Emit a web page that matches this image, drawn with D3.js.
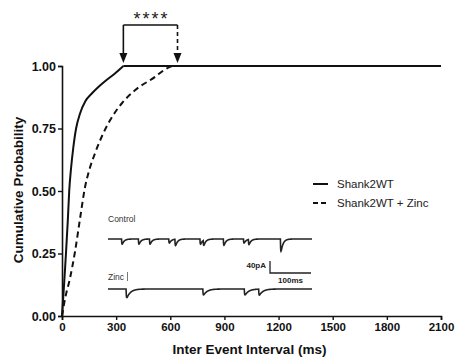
<!DOCTYPE html>
<html>
<head>
<meta charset="utf-8">
<script src="https://cdn.jsdelivr.net/npm/d3@7"></script>
<style>
  body { margin: 0; background: #fff; }
  svg { display: block; font-family: "Liberation Sans", Arial, sans-serif; }
</style>
</head>
<body>
<div id="chart"></div>
<script>
// cumulative distribution, [interval ms, probability]
const shank2wt = [
  [0, 0], [11, 0.12], [22, 0.25], [32, 0.38], [40, 0.5], [50, 0.59], [62, 0.67],
  [78, 0.75], [100, 0.81], [130, 0.86], [165, 0.89], [200, 0.915], [240, 0.94],
  [290, 0.968], [340, 1], [2100, 1]
];
const shank2wtZinc = [
  [0, 0], [17, 0.07], [44, 0.15], [72, 0.257], [100, 0.39], [128, 0.517],
  [146, 0.571], [183, 0.651], [220, 0.717], [267, 0.784], [332, 0.851],
  [406, 0.904], [517, 0.957], [570, 0.986], [610, 1], [2100, 1]
];
const xTicks = [0, 300, 600, 900, 1200, 1500, 1800, 2100];
const yTicks = [0, 0.25, 0.5, 0.75, 1];
const legendLabels = ['Shank2WT', 'Shank2WT + Zinc'];
const arrowsAt = [340, 640];
const stars = '****';

// example traces: event onset (ms) and amplitude (pA)
const controlEvents = [
  [33, 26], [74, 26], [101, 26], [148, 20], [163, 32], [224, 26], [232, 26],
  [281, 32], [330, 20], [342, 26], [420, 62]
];
const zincEvents = [[44, 38], [231, 26], [332, 26], [367, 26]];
const traceLength = 497;
const scaleBar = { pA: 40, ms: 100 };

const W = 457, H = 359;
const margin = { top: 66, right: 16, bottom: 43, left: 62 };
const width = W - margin.left - margin.right;
const height = H - margin.top - margin.bottom;

const svg = d3.select('#chart').append('svg')
  .attr('width', W)
  .attr('height', H);

const g = svg.append('g')
  .attr('transform', 'translate(' + margin.left + ',' + margin.top + ')');

const x = d3.scaleLinear().domain([0, 2100]).range([0, width]);
const y = d3.scaleLinear().domain([0, 1]).range([height, 0]);

// axes
const xAxis = g.append('g')
  .attr('transform', 'translate(0,' + height + ')')
  .call(d3.axisBottom(x).tickValues(xTicks).tickSize(4).tickPadding(3).tickFormat(d3.format('d')));
const yAxis = g.append('g')
  .call(d3.axisLeft(y).tickValues(yTicks).tickSize(4).tickPadding(2).tickFormat(d3.format('.2f')));

[xAxis, yAxis].forEach(ax => {
  ax.select('.domain').attr('stroke', '#111').attr('stroke-width', 1.6);
  ax.selectAll('.tick line').attr('stroke', '#111').attr('stroke-width', 1.4);
  ax.selectAll('.tick text')
    .attr('fill', '#111')
    .style('font-weight', 'bold')
    .style('font-family', '"Liberation Sans", Arial, sans-serif');
});
xAxis.selectAll('.tick text').style('font-size', '11.5px');
yAxis.selectAll('.tick text').style('font-size', '12.5px');

svg.append('text')
  .attr('x', margin.left + width / 2 - 2)
  .attr('y', 354)
  .attr('text-anchor', 'middle')
  .style('font-size', '13.5px')
  .style('font-weight', 'bold')
  .attr('fill', '#111')
  .text('Inter Event Interval (ms)');

svg.append('text')
  .attr('transform', 'translate(23,' + (margin.top + height / 2 - 1) + ') rotate(-90)')
  .attr('text-anchor', 'middle')
  .style('font-size', '13.5px')
  .style('font-weight', 'bold')
  .attr('fill', '#111')
  .text('Cumulative Probability');

// curves: smooth rise up to the first point at 1, straight plateau after it
const smooth = d3.line()
  .x(d => x(d[0]))
  .y(d => y(d[1]))
  .curve(d3.curveMonotoneX);
const straight = d3.line()
  .x(d => x(d[0]))
  .y(d => y(d[1]));

function drawCdf(data, dash) {
  const k = data.findIndex(d => d[1] >= 1);
  g.append('path')
    .datum(data.slice(0, k + 1))
    .attr('fill', 'none')
    .attr('stroke', '#111')
    .attr('stroke-width', 2)
    .attr('stroke-dasharray', dash)
    .attr('d', smooth);
  g.append('path')
    .datum(data.slice(k))
    .attr('fill', 'none')
    .attr('stroke', '#111')
    .attr('stroke-width', 2)
    .attr('stroke-dasharray', dash)
    .attr('d', straight);
}

drawCdf(shank2wtZinc, '6,4');
drawCdf(shank2wt, null);

// significance bracket
const bracketY = 25 - margin.top;
const tipY = 63 - margin.top;
const ann = g.append('g').attr('stroke', '#111').attr('stroke-width', 1.6).attr('fill', 'none');
ann.append('line')
  .attr('x1', x(arrowsAt[0])).attr('x2', x(arrowsAt[1]))
  .attr('y1', bracketY).attr('y2', bracketY);
arrowsAt.forEach((v, i) => {
  ann.append('line')
    .attr('x1', x(v)).attr('x2', x(v))
    .attr('y1', bracketY).attr('y2', tipY - 9)
    .attr('stroke-dasharray', i === 1 ? '4,3' : null);
  g.append('path')
    .attr('d', 'M' + (x(v) - 4) + ',' + (tipY - 10) + 'L' + (x(v) + 4) + ',' + (tipY - 10) + 'L' + x(v) + ',' + tipY + 'Z')
    .attr('fill', '#111');
});
g.append('text')
  .attr('x', (x(arrowsAt[0]) + x(arrowsAt[1])) / 2 + 1)
  .attr('y', bracketY)
  .attr('text-anchor', 'middle')
  .style('font-size', '18px')
  .style('letter-spacing', '2px')
  .attr('fill', '#222')
  .text(stars);

// legend
const legend = svg.append('g').attr('transform', 'translate(313,184)');
legendLabels.forEach((lab, i) => {
  const row = legend.append('g').attr('transform', 'translate(0,' + (i * 19) + ')');
  row.append('line')
    .attr('x1', 0).attr('x2', 15)
    .attr('stroke', '#111').attr('stroke-width', 2)
    .attr('stroke-dasharray', i === 1 ? '5,3' : null);
  row.append('text')
    .attr('x', 24).attr('y', 4)
    .style('font-size', '11.5px')
    .attr('fill', '#222')
    .text(lab);
});

// inset example traces
const tx = d3.scaleLinear().domain([0, traceLength]).range([108, 312]);
const pa = d3.scaleLinear().domain([0, 40]).range([0, 12]);

function trace(events, tau) {
  const pts = [];
  for (let t = 0; t <= traceLength; t += 0.5) {
    let v = 0;
    events.forEach(([t0, amp]) => {
      const dt = t - t0;
      if (dt >= 0) v += amp * (1 - Math.exp(-dt / 0.7)) * Math.exp(-dt / tau);
    });
    pts.push([t, v]);
  }
  return pts;
}

function drawTrace(events, tau, baseY) {
  svg.append('path')
    .datum(trace(events, tau))
    .attr('fill', 'none')
    .attr('stroke', '#222')
    .attr('stroke-width', 1.6)
    .attr('d', d3.line().x(d => tx(d[0])).y(d => baseY + pa(d[1])));
}

drawTrace(controlEvents, 5, 239);
drawTrace(zincEvents, 9, 289);

svg.append('text').attr('x', 108).attr('y', 222)
  .style('font-size', '8.5px').attr('fill', '#333').text('Control');
svg.append('text').attr('x', 108).attr('y', 280)
  .style('font-size', '8.5px').attr('fill', '#333').text('Zinc');
svg.append('line')
  .attr('x1', 127.5).attr('x2', 127.5).attr('y1', 272).attr('y2', 281)
  .attr('stroke', '#555').attr('stroke-width', 0.8);

// scale bar
const sbX = 270, sbY = 273;
svg.append('path')
  .attr('d', 'M' + sbX + ',' + (sbY - pa(scaleBar.pA)) + 'V' + sbY + 'H' + (sbX + tx(scaleBar.ms) - tx(0)))
  .attr('fill', 'none')
  .attr('stroke', '#222')
  .attr('stroke-width', 1.3);
svg.append('text').attr('x', sbX - 4).attr('y', 268)
  .attr('text-anchor', 'end')
  .style('font-size', '8px').style('font-weight', 'bold').attr('fill', '#222')
  .text(scaleBar.pA + 'pA');
svg.append('text').attr('x', sbX + (tx(scaleBar.ms) - tx(0)) / 2)
  .attr('y', 283)
  .attr('text-anchor', 'middle')
  .style('font-size', '8px').style('font-weight', 'bold').attr('fill', '#222')
  .text(scaleBar.ms + 'ms');
</script>
</body>
</html>
